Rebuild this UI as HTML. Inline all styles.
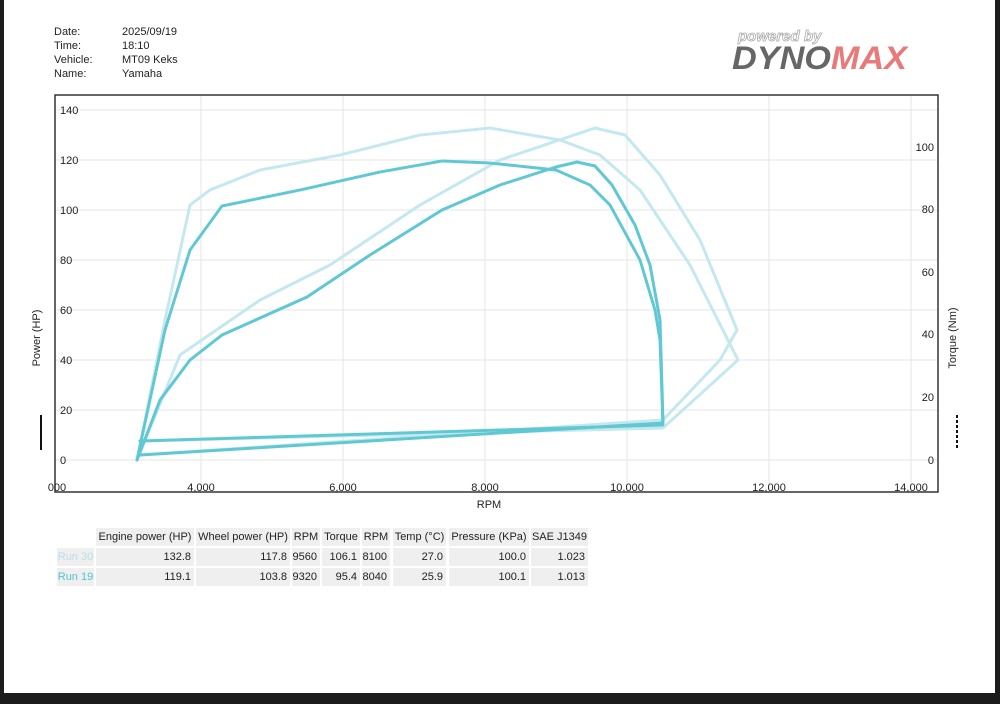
<!DOCTYPE html>
<html><head><meta charset="utf-8"><style>
body{margin:0;width:1000px;height:704px;background:#1c1c1c;font-family:"Liberation Sans",sans-serif;overflow:hidden}
#page{position:absolute;left:4px;top:0;width:991px;height:693px;background:#fff}
.hd{position:absolute;font-size:11px;color:#222;line-height:14px}
.c{position:absolute;background:#efefef;font-size:11px;color:#222;height:18px;line-height:18px;white-space:nowrap;text-align:right;box-sizing:border-box;padding-right:3px}
.h{text-align:center;padding:0}
</style></head><body>
<div id="page"></div>
<div class="hd" style="left:54px;top:25px">Date:<br>Time:<br>Vehicle:<br>Name:</div>
<div class="hd" style="left:122px;top:25px">2025/09/19<br>18:10<br>MT09 Keks<br>Yamaha</div>
<div style="position:absolute;left:738px;top:28px;font:italic bold 15px 'Liberation Sans',sans-serif;color:#fff;-webkit-text-stroke:0.8px #aaa">powered by</div>
<div style="position:absolute;left:732px;top:40px;font:italic bold 32px 'Liberation Sans',sans-serif;color:#666;transform:scaleX(1.07);transform-origin:left">DYNO<span style="color:#e87a7a">MAX</span></div>
<svg width="1000" height="704" style="position:absolute;left:0;top:0">
<g stroke="#e6e6e6" stroke-width="1">
<line x1="201" y1="96" x2="201" y2="491"/><line x1="343" y1="96" x2="343" y2="491"/><line x1="485" y1="96" x2="485" y2="491"/><line x1="627" y1="96" x2="627" y2="491"/><line x1="769" y1="96" x2="769" y2="491"/><line x1="911" y1="96" x2="911" y2="491"/>
<line x1="56" y1="110" x2="937" y2="110"/><line x1="56" y1="160" x2="937" y2="160"/><line x1="56" y1="210" x2="937" y2="210"/><line x1="56" y1="260" x2="937" y2="260"/><line x1="56" y1="310" x2="937" y2="310"/><line x1="56" y1="360" x2="937" y2="360"/><line x1="56" y1="410" x2="937" y2="410"/><line x1="56" y1="460" x2="937" y2="460"/>
</g>
<rect x="55" y="95" width="883" height="397" fill="none" stroke="#333" stroke-width="1.5"/>
<g font-size="11" fill="#222" font-family="Liberation Sans">
<text x="60" y="114">140</text><text x="60" y="164">120</text><text x="60" y="214">100</text><text x="60" y="264">80</text><text x="60" y="314">60</text><text x="60" y="364">40</text><text x="60" y="414">20</text><text x="60" y="464">0</text>
<g text-anchor="end"><text x="934" y="151">100</text><text x="934" y="213">80</text><text x="934" y="276">60</text><text x="934" y="338">40</text><text x="934" y="401">20</text><text x="934" y="464">0</text></g>
<g text-anchor="middle"><text x="57" y="491">000</text><text x="201" y="491">4,000</text><text x="343" y="491">6,000</text><text x="485" y="491">8,000</text><text x="627" y="491">10,000</text><text x="769" y="491">12,000</text><text x="911" y="491">14,000</text>
<text x="489" y="508">RPM</text></g>
<text transform="translate(40,338) rotate(-90)" text-anchor="middle">Power (HP)</text>
<text transform="translate(956,338) rotate(-90)" text-anchor="middle">Torque (Nm)</text>
</g>
<line x1="41" y1="415" x2="41" y2="450" stroke="#111" stroke-width="2"/>
<line x1="957" y1="415" x2="957" y2="450" stroke="#111" stroke-width="2" stroke-dasharray="3,2"/>
<g fill="none" stroke-linejoin="round" stroke-linecap="round">
<g stroke="#c4e8ef" stroke-width="3">
<polyline points="137,460 180,355 260,300 330,265 420,205 500,160 595,128 625,135 660,175 700,240 737,330 720,360 663,420 140,455"/>
<polyline stroke-dasharray="2,1.5" points="137,460 165,320 190,205 210,190 260,170 340,155 420,135 490,128 560,140 600,155 640,190 690,265 738,360 663,428 140,441"/>
</g>
<g stroke="#5fc8d3" stroke-width="3">
<polyline points="137,460 160,400 190,360 222,335 307,297 370,255 442,210 500,185 556,167 577,162 595,166 612,185 635,225 650,265 660,320 663,423 140,455"/>
<polyline stroke-dasharray="2,1.5" points="137,460 165,330 190,250 222,206 300,190 380,172 442,161 490,163 556,170 590,185 610,205 640,260 655,310 660,340 663,425 140,441"/>
</g>
</g>
</svg>
<div class="c h" style="left:96px;top:528px;width:98px">Engine power (HP)</div>
<div class="c h" style="left:196px;top:528px;width:94px">Wheel power (HP)</div>
<div class="c h" style="left:292px;top:528px;width:28px">RPM</div>
<div class="c h" style="left:322px;top:528px;width:38px">Torque</div>
<div class="c h" style="left:362px;top:528px;width:28px">RPM</div>
<div class="c h" style="left:393px;top:528px;width:53px">Temp (°C)</div>
<div class="c h" style="left:449px;top:528px;width:80px">Pressure (KPa)</div>
<div class="c h" style="left:531px;top:528px;width:57px">SAE J1349</div>

<div class="c h" style="left:57px;top:548px;width:37px;color:#b5dfe8">Run 30</div>
<div class="c" style="left:96px;top:548px;width:98px">132.8</div>
<div class="c" style="left:196px;top:548px;width:94px">117.8</div>
<div class="c" style="left:292px;top:548px;width:28px">9560</div>
<div class="c" style="left:322px;top:548px;width:38px">106.1</div>
<div class="c" style="left:362px;top:548px;width:28px">8100</div>
<div class="c" style="left:393px;top:548px;width:53px">27.0</div>
<div class="c" style="left:449px;top:548px;width:80px">100.0</div>
<div class="c" style="left:531px;top:548px;width:57px">1.023</div>

<div class="c h" style="left:57px;top:568px;width:37px;color:#4ec3cf">Run 19</div>
<div class="c" style="left:96px;top:568px;width:98px">119.1</div>
<div class="c" style="left:196px;top:568px;width:94px">103.8</div>
<div class="c" style="left:292px;top:568px;width:28px">9320</div>
<div class="c" style="left:322px;top:568px;width:38px">95.4</div>
<div class="c" style="left:362px;top:568px;width:28px">8040</div>
<div class="c" style="left:393px;top:568px;width:53px">25.9</div>
<div class="c" style="left:449px;top:568px;width:80px">100.1</div>
<div class="c" style="left:531px;top:568px;width:57px">1.013</div>
</body></html>
